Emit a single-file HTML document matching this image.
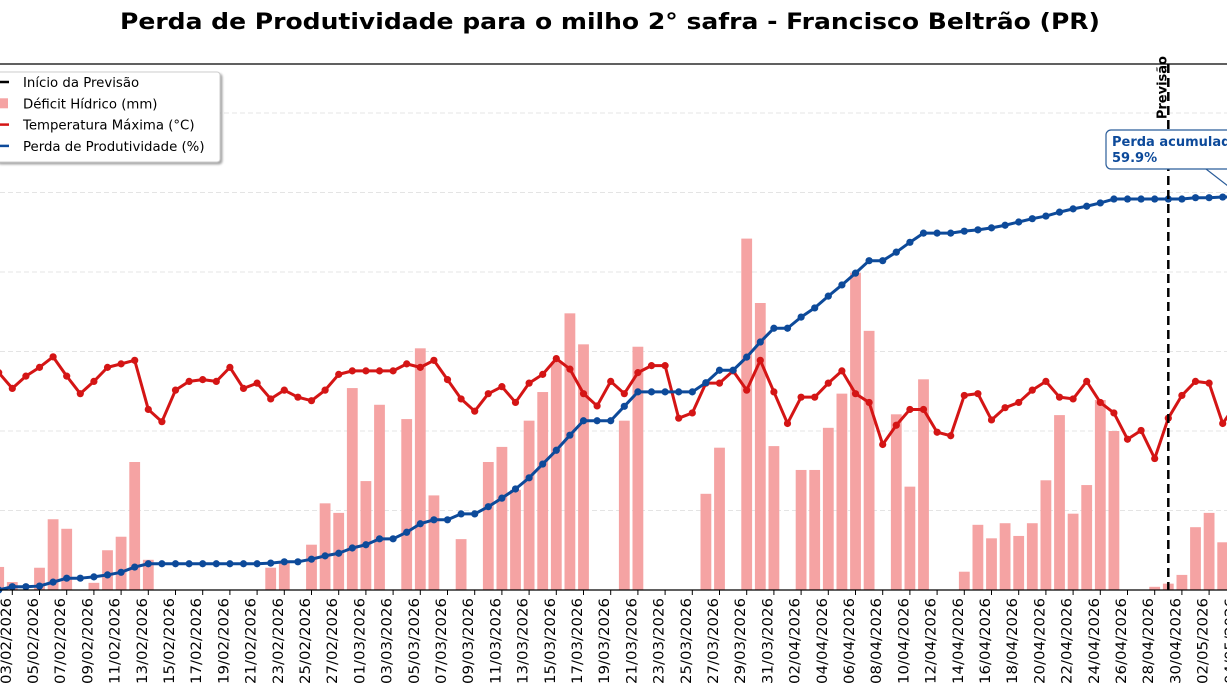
<!DOCTYPE html>
<html><head><meta charset="utf-8"><style>
html,body{margin:0;padding:0;background:#fff;}
svg{display:block;font-family:"DejaVu Sans","Liberation Sans",sans-serif;}
</style></head><body>
<svg id="chart" width="1227" height="690" viewBox="0 0 1227 690" xmlns="http://www.w3.org/2000/svg">
<text x="610" y="29" text-anchor="middle" font-size="22" font-weight="bold" textLength="980" lengthAdjust="spacingAndGlyphs">Perda de Produtividade para o milho 2° safra - Francisco Beltrão (PR)</text>
<g id="grid"></g>
<g id="bars"></g>
<g id="temp"></g>
<g id="loss"></g>
<g id="axes"></g>
</svg>
<script>
const startDate = [2026, 2, 2];
const deficit = [2.9,1.0,0,2.8,8.9,7.7,0,0.9,5.0,6.7,16.1,3.8,0,0,0,0,0,0,0,0,2.8,3.4,0,5.7,10.9,9.7,25.4,13.7,23.3,0,21.5,30.4,11.9,0,6.4,0,16.1,18.0,12.6,21.3,24.9,28.7,34.8,30.9,0,0,21.3,30.6,0,0,0,0,12.1,17.9,0,44.2,36.1,18.1,0,15.1,15.1,20.4,24.7,39.9,32.6,0,22.1,13.0,26.5,0,0,2.3,8.2,6.5,8.4,6.8,8.4,13.8,22.0,9.6,13.2,23.9,20.0,0,0,0.4,0.8,1.9,7.9,9.7,6.0,0];
const tempMax = [22.4,21.5,22.2,22.7,23.3,22.2,21.2,21.9,22.7,22.9,23.1,20.3,19.6,21.4,21.9,22.0,21.9,22.7,21.5,21.8,20.9,21.4,21.0,20.8,21.4,22.3,22.5,22.5,22.5,22.5,22.9,22.7,23.1,22.0,20.9,20.2,21.2,21.6,20.7,21.8,22.3,23.2,22.6,21.2,20.5,21.9,21.2,22.4,22.8,22.8,19.8,20.1,21.8,21.8,22.5,21.4,23.1,21.3,19.5,21.0,21.0,21.8,22.5,21.2,20.7,18.3,19.4,20.3,20.3,19.0,18.8,21.1,21.2,19.7,20.4,20.7,21.4,21.9,21.0,20.9,21.9,20.7,20.1,18.6,19.1,17.5,19.8,21.1,21.9,21.8,19.5,20.6];
const lossPct = [0,0.5,0.5,0.6,1.2,1.8,1.8,2.0,2.3,2.7,3.5,4.0,4.0,4.0,4.0,4.0,4.0,4.0,4.0,4.0,4.1,4.3,4.3,4.7,5.2,5.6,6.4,6.9,7.8,7.8,8.8,10.1,10.7,10.7,11.6,11.6,12.7,14.0,15.4,17.1,19.2,21.3,23.6,25.8,25.8,25.8,28.0,30.2,30.2,30.2,30.2,30.2,31.6,33.5,33.5,35.5,37.8,39.9,39.9,41.6,43.0,44.8,46.5,48.3,50.2,50.2,51.5,53.0,54.4,54.4,54.4,54.7,54.9,55.2,55.6,56.1,56.6,57.0,57.6,58.1,58.5,59.0,59.6,59.6,59.6,59.6,59.6,59.6,59.8,59.8,59.9,59.9];
const forecastIndex = 86;
const gridValues = [10,20,30,40,50,60];

const NS = "http://www.w3.org/2000/svg";
const plotTop = 64, plotBase = 590;
function xAt(i){ return -1.3 + i*13.6; }
function yDef(v){ return plotBase - v*7.95; }
function yTemp(t){ return plotBase - (t-10)*17.53; }
function yLoss(p){ return plotBase - p*6.56; }
function mk(tag, attrs, parent){ const e=document.createElementNS(NS,tag); for(const k in attrs) e.setAttribute(k,attrs[k]); parent.appendChild(e); return e; }
function pad(n){ return (n<10?'0':'')+n; }
const dates = [];
for(let i=0;i<deficit.length;i++){ const d=new Date(Date.UTC(startDate[0],startDate[1]-1,startDate[2]+i)); dates.push(pad(d.getUTCDate())+'/'+pad(d.getUTCMonth()+1)+'/'+d.getUTCFullYear()); }

const grid=document.getElementById('grid');
gridValues.forEach(v=>{
  const l=mk('line',{x1:0,x2:1227,y1:yDef(v),y2:yDef(v),stroke:'#dcdcdc','stroke-width':0.8,'stroke-dasharray':'5,3'},grid);
  
  
});

const bars=document.getElementById('bars');
deficit.forEach((v,i)=>{
  if(v<=0) return;
  const r=mk('rect',{x:xAt(i)-5.4,y:yDef(v),width:10.8,height:plotBase-yDef(v),fill:'#f5a3a3'},bars);
  
  
});

const tg=document.getElementById('temp');
const tl=mk('polyline',{points:tempMax.map((t,i)=>xAt(i)+','+yTemp(t)).join(' '),fill:'none',stroke:'#d41515','stroke-width':3,'stroke-linejoin':'round'},tg);


tempMax.forEach((t,i)=>{
  const c=mk('circle',{cx:xAt(i),cy:yTemp(t),r:3.6,fill:'#d41515'},tg);
  
  
});

const lg=document.getElementById('loss');
const ll=mk('polyline',{points:lossPct.map((p,i)=>xAt(i)+','+yLoss(p)).join(' '),fill:'none',stroke:'#0d4a9a','stroke-width':3,'stroke-linejoin':'round'},lg);


lossPct.forEach((p,i)=>{
  const c=mk('circle',{cx:xAt(i),cy:yLoss(p),r:3.6,fill:'#0d4a9a'},lg);
  
  
});

const ax=document.getElementById('axes');
const sp1=mk('line',{x1:0,x2:1227,y1:plotTop,y2:plotTop,stroke:'#000','stroke-width':1.2},ax);


const sp2=mk('line',{x1:0,x2:1227,y1:plotBase,y2:plotBase,stroke:'#000','stroke-width':1.2},ax);


dates.forEach((d,i)=>{
  if(i%2!==1) return;
  const x=xAt(i);
  const t=mk('line',{x1:x,x2:x,y1:plotBase,y2:plotBase+5,stroke:'#000','stroke-width':1},ax);
  
  
  const lb=mk('text',{x:x-1.5,y:598,'font-size':14.5,'text-anchor':'end',transform:'rotate(-90 '+(x-1.5)+' 598)',textLength:86,lengthAdjust:'spacingAndGlyphs'},ax);
  lb.textContent=d;
  
  
});
const fx=xAt(forecastIndex);
const fl=mk('line',{x1:fx,x2:fx,y1:plotTop,y2:plotBase,stroke:'#000','stroke-width':2.5,'stroke-dasharray':'9,5'},ax);


const ft=mk('text',{x:fx-2,y:56,'font-size':13,'font-weight':'bold','text-anchor':'end',transform:'rotate(-90 '+(fx-2)+' 56)'},ax);
ft.textContent='Previsão';



const last=lossPct.length-2;
const an=mk('g',{},ax);


mk('line',{x1:1206,y1:169,x2:xAt(last+1)+2,y2:yLoss(lossPct[last])-3,stroke:'#2b5d9a','stroke-width':1.2},an);
mk('rect',{x:1106,y:130,width:160,height:39,rx:5,fill:'#fff',stroke:'#2b5d9a','stroke-width':1.2},an);
const a1=mk('text',{x:1112,y:146,'font-size':13,'font-weight':'bold',fill:'#0d4a9a'},an);
a1.textContent='Perda acumulada:';
const a2=mk('text',{x:1112,y:162,'font-size':13,'font-weight':'bold',fill:'#0d4a9a'},an);
a2.textContent=lossPct[lossPct.length-1].toFixed(1)+'%';

const lgd=mk('g',{},ax);


mk('rect',{x:-4,y:72,width:224,height:90,rx:3,fill:'#fff',stroke:'#cccccc','stroke-width':1,style:'filter:drop-shadow(2px 2px 1px rgba(0,0,0,0.35))'},lgd);
const items=[['Início da Previsão','dash','#000'],['Déficit Hídrico (mm)','bar','#f5a3a3'],['Temperatura Máxima (°C)','line','#d41515'],['Perda de Produtividade (%)','line','#0d4a9a']];
items.forEach((it,k)=>{
  const cy=82+k*21.3;
  const g=mk('g',{},lgd);
  
  
  if(it[1]==='bar') mk('rect',{x:0,y:cy-5,width:8,height:10,fill:it[2]},g);
  else mk('line',{x1:0,x2:9,y1:cy,y2:cy,stroke:it[2],'stroke-width':2.5},g);
  const t=mk('text',{x:23,y:cy+5,'font-size':13.3},g);
  t.textContent=it[0];
});
</script>
</body></html>
